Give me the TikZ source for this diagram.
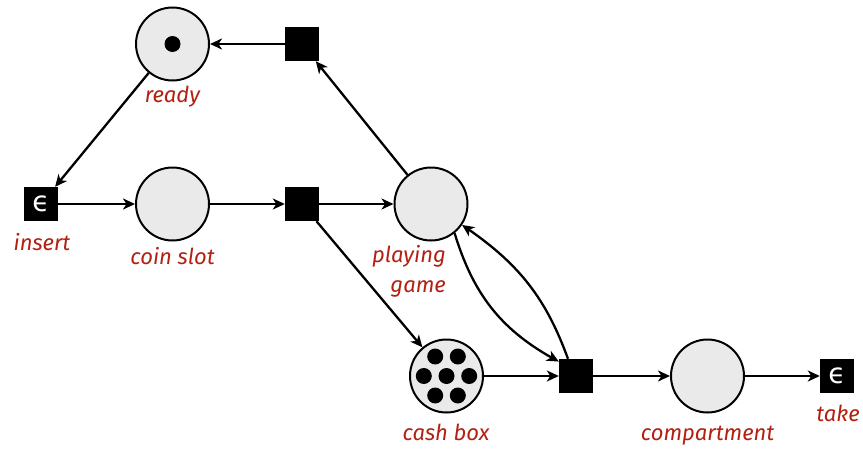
\documentclass[tikz,border=0pt]{standalone}
\usepackage{fontspec}
\setmainfont{Fira Sans}
\newfontfamily\epsfont{DejaVu Sans}
\usetikzlibrary{arrows.meta,bending,calc}
\definecolor{labelred}{RGB}{178,32,18}
\definecolor{placefill}{RGB}{234,234,234}
\begin{document}
\begin{tikzpicture}[x=1pt,y=1pt,
  place/.style={circle,draw,line width=2pt,fill=placefill,minimum size=73pt,inner sep=0pt},
  trans/.style={rectangle,fill=black,minimum size=34pt,inner sep=0pt},
  epstrans/.style={trans,text=white,font=\epsfont\fontsize{28}{28}\selectfont},
  token/.style={circle,fill=black,minimum size=16pt,inner sep=0pt},
  lbl/.style={text=labelred,font=\itshape\fontsize{22}{26}\selectfont,anchor=base,inner sep=0pt},
  arc/.style={-{Stealth[length=12pt,width=11pt,inset=3.5pt]},line width=2.3pt}]
\useasboundingbox (0,0) rectangle (863,-450);

% places
\node[place] (ready) at (172.5,-44) {};
\node[place] (coin)  at (172.5,-204) {};
\node[place] (play)  at (431,-204) {};
\node[place] (cash)  at (446.5,-376) {};
\node[place] (comp)  at (707.5,-376) {};

% transitions
\node[trans] (ttop)   at (302,-44) {};
\node[trans] (tmid)   at (302,-204) {};
\node[trans] (tright) at (576,-376) {};
\node[epstrans] (insert) at (41,-204) {ϵ};
\node[epstrans] (take)   at (837,-376) {ϵ};

% tokens
\node[token] (rtok) at (ready) {};
\node[token] (c0) at (cash) {};
\node[token] (c1) at ($(cash)+(-22.7,0)$) {};
\node[token] (c2) at ($(cash)+(22.7,0)$) {};
\node[token] (c3) at ($(cash)+(-11.3,19.5)$) {};
\node[token] (c4) at ($(cash)+(11.3,19.5)$) {};
\node[token] (c5) at ($(cash)+(-11.3,-19.5)$) {};
\node[token] (c6) at ($(cash)+(11.3,-19.5)$) {};

% labels
\node[lbl] (lready) at (172.5,-102) {ready};
\node[lbl] (linsert) at (42,-250) {insert};
\node[lbl] (lcoin) at (172.5,-264) {coin slot};
\node[lbl,anchor=base east] (lplay1) at (446,-262) {playing};
\node[lbl,anchor=base east] (lplay2) at (446,-292) {game};
\node[lbl] (lcash) at (446,-440) {cash box};
\node[lbl] (lcomp) at (707.5,-440) {compartment};
\node[lbl] (ltake) at (838,-421) {take};

% arcs
\draw[arc] (ttop) -- (ready);
\draw[arc] (play) -- (ttop);
\draw[arc] (ready) -- (insert);
\draw[arc] (insert) -- (coin);
\draw[arc] (coin) -- (tmid);
\draw[arc] (tmid) -- (play);
\draw[arc] (tmid) -- (cash);
\draw[arc] (cash) -- (tright);
\draw[arc] (play.-51) to[out=-73,in=152] (tright.140);
\draw[arc] (tright.115) to[out=110,in=-34] (play.-34);
\draw[arc] (tright) -- (comp);
\draw[arc] (comp) -- (take);
\end{tikzpicture}
\end{document}
